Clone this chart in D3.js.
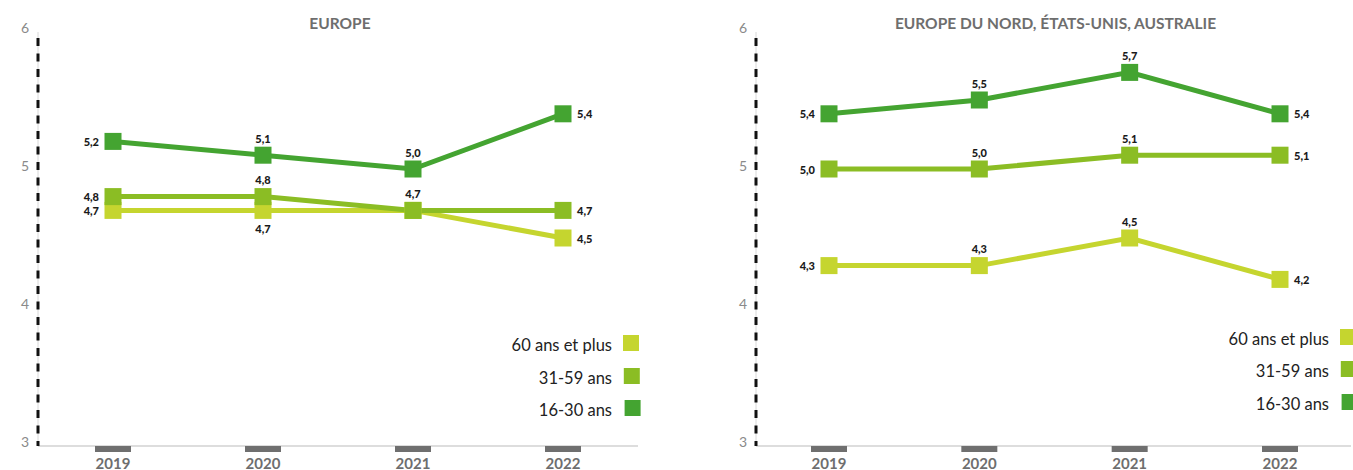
<!DOCTYPE html>
<html>
<head>
<meta charset="utf-8">
<script src="https://cdn.jsdelivr.net/npm/d3@7"></script>
<style>
  html, body { margin: 0; padding: 0; background: #fff; }
  svg { display: block; }
</style>
</head>
<body>
<svg id="chart" width="1353" height="470"></svg>
<script>
// ---------- DATA ----------
const years = ["2019", "2020", "2021", "2022"];
const seriesNames = ["60 ans et plus", "31-59 ans", "16-30 ans"];
const yTicks = [3, 4, 5, 6];

const panelTitles = ["EUROPE", "EUROPE DU NORD, ÉTATS-UNIS, AUSTRALIE"];

const europe60plus = [4.7, 4.7, 4.7, 4.5];
const europe31to59 = [4.8, 4.8, 4.7, 4.7];
const europe16to30 = [5.2, 5.1, 5.0, 5.4];

const nord60plus = [4.3, 4.3, 4.5, 4.2];
const nord31to59 = [5.0, 5.0, 5.1, 5.1];
const nord16to30 = [5.4, 5.5, 5.7, 5.4];

// ---------- STYLE / LAYOUT ----------
const colors = ["#c5d52f", "#8bbd24", "#44a431"];
const fontFam = "Lato, 'Open Sans', sans-serif";

// label placement per panel, per series (same order as seriesNames), per year
const labelPlacement = [
  [
    ["left", "below", "none", "right"],
    ["left", "above", "above", "right"],
    ["left", "above", "above", "right"]
  ],
  [
    ["left", "above", "above", "right"],
    ["left", "above", "above", "right"],
    ["left", "above", "above", "right"]
  ]
];

const panels = [
  { title: panelTitles[0], series: [europe60plus, europe31to59, europe16to30],
    axisX: 38, xRange: [113, 563], right: 640, legendText: 612, legendY: [343, 376, 408] },
  { title: panelTitles[1], series: [nord60plus, nord31to59, nord16to30],
    axisX: 756, xRange: [829, 1280], right: 1353, legendText: 1329, legendY: [337, 369, 402] }
];

const svg = d3.select("#chart");
const y = d3.scaleLinear().domain([3, 6]).range([445, 31]);
const fmt = v => d3.format(".1f")(v).replace(".", ",");

panels.forEach((p, pi) => {
  const g = svg.append("g");
  const x = d3.scalePoint().domain(years).range(p.xRange);

  // title
  g.append("text")
    .attr("x", (p.axisX + p.right) / 2 + 1)
    .attr("y", 23)
    .attr("text-anchor", "middle")
    .attr("dominant-baseline", "central")
    .attr("font-family", fontFam)
    .attr("font-weight", "bold")
    .attr("font-size", 15.5)
    .attr("fill", "#6e6e6e")
    .text(p.title);

  // baseline
  g.append("line")
    .attr("x1", p.axisX).attr("x2", p.right - 2)
    .attr("y1", y(3) + 1).attr("y2", y(3) + 1)
    .attr("stroke", "#d2d2d2").attr("stroke-width", 1.5);

  // thin vertical axis line
  g.append("line")
    .attr("x1", p.axisX).attr("x2", p.axisX)
    .attr("y1", 32).attr("y2", y(3) + 1)
    .attr("stroke", "#d8d8d8").attr("stroke-width", 1);
  // dashed axis line
  g.append("line")
    .attr("x1", p.axisX).attr("x2", p.axisX)
    .attr("y1", 38).attr("y2", y(3) + 1)
    .attr("stroke", "#111").attr("stroke-width", 3)
    .attr("stroke-dasharray", "8,7.5");

  // y tick labels
  g.selectAll(".ytick").data(yTicks).enter().append("text")
    .attr("x", p.axisX - 13)
    .attr("y", d => y(d) - 4)
    .attr("text-anchor", "middle")
    .attr("dominant-baseline", "central")
    .attr("font-family", fontFam)
    .attr("font-size", 14)
    .attr("fill", "#8a8a8a")
    .text(d => d);

  // x tick marks and labels
  g.selectAll(".xtick").data(years).enter().append("rect")
    .attr("x", d => x(d) - 18)
    .attr("y", y(3) + 1)
    .attr("width", 36).attr("height", 6)
    .attr("fill", "#6f6f6f");
  g.selectAll(".xlab").data(years).enter().append("text")
    .attr("x", d => x(d))
    .attr("y", 462.5)
    .attr("text-anchor", "middle")
    .attr("dominant-baseline", "central")
    .attr("font-family", fontFam)
    .attr("font-weight", "bold")
    .attr("font-size", 15)
    .attr("fill", "#6e6e6e")
    .text(d => d);

  // series
  const line = d3.line().x((d, i) => x(years[i])).y(d => y(d));
  p.series.forEach((vals, si) => {
    g.append("path")
      .datum(vals)
      .attr("d", line)
      .attr("fill", "none")
      .attr("stroke", colors[si])
      .attr("stroke-width", 5)
      .attr("stroke-linejoin", "miter");
  });
  p.series.forEach((vals, si) => {
    g.selectAll(".m" + si).data(vals).enter().append("rect")
      .attr("x", (d, i) => x(years[i]) - 8.5)
      .attr("y", d => y(d) - 8.5)
      .attr("width", 17).attr("height", 17)
      .attr("fill", colors[si]);
  });
  // data labels
  p.series.forEach((vals, si) => {
    vals.forEach((v, i) => {
      const pos = labelPlacement[pi][si][i];
      if (pos === "none") return;
      const cx = x(years[i]), cy = y(v);
      let lx = cx, ly = cy, anchor = "middle";
      if (pos === "left") { lx = cx - 14; anchor = "end"; }
      else if (pos === "right") { lx = cx + 14; anchor = "start"; }
      else if (pos === "above") { ly = cy - 17; }
      else if (pos === "below") { ly = cy + 18; }
      g.append("text")
        .attr("x", lx).attr("y", ly)
        .attr("text-anchor", anchor)
        .attr("dominant-baseline", "central")
        .attr("font-family", fontFam)
        .attr("font-weight", "900")
        .attr("font-size", 11)
        .attr("fill", "#1a1a1a")
        .text(fmt(v));
    });
  });

  // legend
  seriesNames.forEach((name, si) => {
    const ly = p.legendY[si];
    g.append("text")
      .attr("x", p.legendText)
      .attr("y", ly + 2)
      .attr("text-anchor", "end")
      .attr("dominant-baseline", "central")
      .attr("font-family", fontFam)
      .attr("font-size", 16.5)
      .attr("fill", "#222")
      .text(name);
    g.append("rect")
      .attr("x", p.legendText + 11 + si * 0.8)
      .attr("y", ly - 8)
      .attr("width", 16).attr("height", 16)
      .attr("fill", colors[si]);
  });
});
</script>
</body>
</html>
